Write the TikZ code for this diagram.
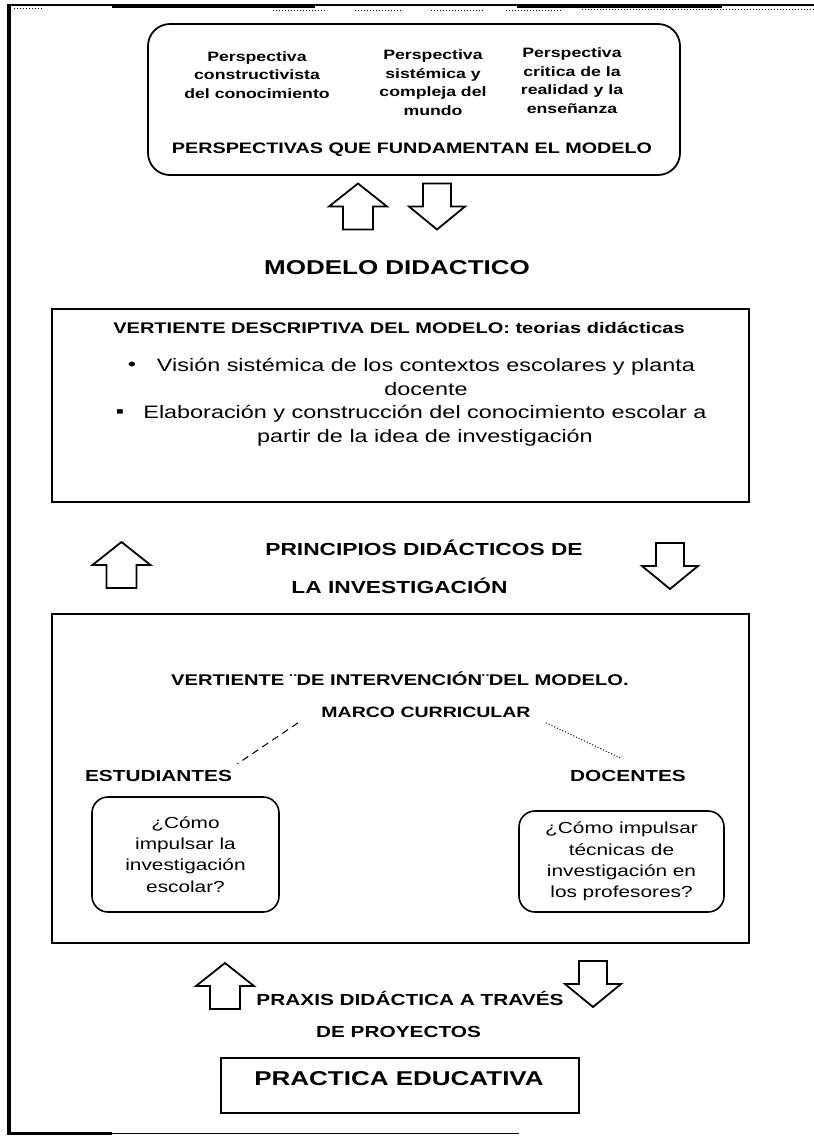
\documentclass[tikz,border=0pt]{standalone}
\usepackage{fontspec}
\setmainfont{Liberation Sans}[FakeStretch=1.3]
\usepackage{tikz}
\usetikzlibrary{positioning, calc}

\tikzset{
    framebox/.style={draw, line width=1.8pt, inner sep=0pt},
    qbox/.style={draw, line width=1.6pt, rounded corners=16pt, align=center, font=\fontsize{16}{21.3}\selectfont},
    colhead/.style={align=center, font=\fontsize{13.6}{18.5}\selectfont\bfseries},
    bodytext/.style={align=center, font=\fontsize{18}{24}\selectfont},
    upblock/.pic={\draw[line width=1.8pt] (-15,-23) -- (-15,0) -- (-29,0) -- (0,23) -- (29,0) -- (15,0) -- (15,-23) -- cycle;},
    downblock/.pic={\draw[line width=1.8pt] (-14,23) -- (-14,0) -- (-28,0) -- (0,-23) -- (28,0) -- (14,0) -- (14,23) -- cycle;}
}

\begin{document}
\begin{tikzpicture}[x=1pt, y=1pt]
    \useasboundingbox (0,0) rectangle (814,-1136);

    % Page frame
    \draw[line width=4pt] (9,-5) -- (9,-1133);
    \draw[line width=1.2pt] (7,-5) -- (814,-5);
    \draw[line width=3pt] (112,-6) -- (315,-6);
    \draw[line width=3pt] (517,-6) -- (722,-6);
    \draw[line width=1pt, dash pattern=on 1pt off 2pt] (14,-8) -- (42,-8);
    \draw[line width=1pt, dash pattern=on 1pt off 2pt] (273,-10) -- (327,-10);
    \draw[line width=1pt, dash pattern=on 1pt off 2pt] (355,-10) -- (403,-10);
    \draw[line width=1pt, dash pattern=on 1pt off 2pt] (431,-10) -- (484,-10);
    \draw[line width=1pt, dash pattern=on 1pt off 2pt] (506,-10) -- (561,-10);
    \draw[line width=1pt, dash pattern=on 1pt off 2pt] (582,-9) -- (814,-9);
    \draw[line width=3pt] (7,-1133) -- (112,-1133);
    \draw[line width=1.5pt] (112,-1133.5) -- (519,-1133.5);

    % Perspectivas
    \node[framebox, rounded corners=22pt, minimum width=532pt, minimum height=151pt] (persp) at (414,-99.5) {};
    \node[colhead] (constr) at (257,-75) {Perspectiva\\constructivista\\del conocimiento};
    \node[colhead] (sistem) at (433,-82.5) {Perspectiva\\sistémica y\\compleja del\\mundo};
    \node[colhead] (critica) at (572,-80.5) {Perspectiva\\critica de la\\realidad y la\\enseñanza};
    \node[font=\fontsize{15.2}{17}\selectfont\bfseries] (fundam) at (412,-150) {PERSPECTIVAS QUE FUNDAMENTAN EL MODELO};

    \pic at (358,-206.5) {upblock};
    \pic at (437,-206.5) {downblock};

    \node[font=\fontsize{20}{24}\selectfont\bfseries] (modelo) at (397,-268) {MODELO DIDACTICO};

    % Vertiente descriptiva
    \node[framebox, minimum width=697pt, minimum height=193pt] (descr) at (400.5,-405.5) {};
    \node[font=\fontsize{15.4}{18}\selectfont\bfseries] (descrtit) at (399,-328) {VERTIENTE DESCRIPTIVA DEL MODELO: teorias didácticas};
    \node[bodytext] (item1) at (426,-376.5) {Visión sistémica de los contextos escolares y planta\\docente};
    \node[bodytext] (item2) at (425,-425.5) {Elaboración y construcción del conocimiento escolar a\\partir de la idea de investigación};
    \node[bodytext] (bul1) at (132,-366) {•};
    \node[bodytext] (bul2) at (120,-414) {▪};

    \pic at (121.5,-565) {upblock};
    \pic at (670,-566) {downblock};
    \node[font=\fontsize{17.5}{20}\selectfont\bfseries] (princ1) at (424,-548) {PRINCIPIOS DIDÁCTICOS DE};
    \node[font=\fontsize{17.5}{20}\selectfont\bfseries] (princ2) at (399.5,-586) {LA INVESTIGACIÓN};

    % Vertiente de intervencion
    \node[framebox, minimum width=697pt, minimum height=329pt] (interv) at (400.5,-778.5) {};
    \node[font=\fontsize{15.5}{18}\selectfont\bfseries] (intervtit) at (400,-679) {VERTIENTE ¨DE INTERVENCIÓN¨DEL MODELO.};
    \node[font=\fontsize{15}{18}\selectfont\bfseries] (marco) at (426,-712) {MARCO CURRICULAR};
    \node[font=\fontsize{16}{18}\selectfont\bfseries] (estud) at (158.5,-776) {ESTUDIANTES};
    \node[font=\fontsize{16}{18}\selectfont\bfseries] (docen) at (628,-776) {DOCENTES};
    \draw[line width=1pt, dash pattern=on 7pt off 5pt] ([shift={(-20,-2)}]marco.south west) -- ([shift={(2,3)}]estud.north east);
    \draw[line width=1pt, dash pattern=on 1pt off 2pt] ([shift={(12,-2)}]marco.south east) -- ([shift={(-8,9)}]docen.north);
    \node[qbox, minimum width=187pt, minimum height=115pt] (pregest) at (185.5,-854.5) {¿Cómo\\impulsar la\\investigación\\escolar?};
    \node[qbox, minimum width=205pt, minimum height=101pt] (pregdoc) at (621.5,-861.5) {¿Cómo impulsar\\técnicas de\\investigación en\\los profesores?};

    % Praxis
    \pic at (225,-986) {upblock};
    \pic at (593,-984) {downblock};
    \node[font=\fontsize{16}{18}\selectfont\bfseries] (praxis1) at (410,-998) {PRAXIS DIDÁCTICA A TRAVÉS};
    \node[font=\fontsize{16}{18}\selectfont\bfseries] (praxis2) at (398.5,-1032) {DE PROYECTOS};

    \node[framebox, minimum width=358pt, minimum height=55pt] (practbox) at (400,-1085.5) {};
    \node[font=\fontsize{20}{24}\selectfont\bfseries] (practica) at (399,-1079) {PRACTICA EDUCATIVA};
\end{tikzpicture}
\end{document}
